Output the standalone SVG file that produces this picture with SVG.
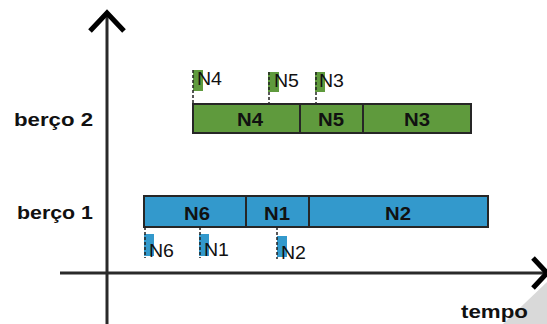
<svg xmlns="http://www.w3.org/2000/svg" width="547" height="324" viewBox="0 0 547 324">
<style>
.lbl{font-family:"Liberation Sans",Arial,sans-serif;font-weight:bold;font-size:19px;fill:#111}
.bt{font-family:"Liberation Sans",Arial,sans-serif;font-weight:bold;font-size:19px;fill:#111;text-anchor:middle}
.mt{font-family:"Liberation Sans",Arial,sans-serif;font-size:18px;fill:#111}
.g{fill:#5f9a3d}
.b{fill:#3399cc}
.bar{stroke:#262626;stroke-width:2}
.dash{stroke:#222;stroke-width:1.5;stroke-dasharray:3 2;fill:none}
.axis{stroke:#2a2a2a;stroke-width:3;fill:none}
.head{stroke:#000;stroke-width:5;fill:none}
</style>
<polygon points="503,324 547,282 547,324" fill="#d9d9d9"/>
<g id="axes">
<line class="axis" x1="107" y1="14" x2="107" y2="324"/>
<line class="axis" x1="60" y1="273" x2="544" y2="273"/>
<polyline class="head" points="90,31 107,13 124,31"/>
<polyline class="head" points="533,258 547,273 533,288"/>
</g>
<text class="lbl" x="14" y="126" textLength="79" lengthAdjust="spacingAndGlyphs">berço 2</text>
<text class="lbl" x="17" y="219" textLength="76" lengthAdjust="spacingAndGlyphs">berço 1</text>
<text class="lbl" x="461" y="318" textLength="67" lengthAdjust="spacingAndGlyphs">tempo</text>
<g id="N4bar"><rect class="g bar" x="193" y="104" width="107" height="29"/><text class="bt" x="250" y="126" textLength="26" lengthAdjust="spacingAndGlyphs">N4</text></g>
<g id="N5bar"><rect class="g bar" x="300" y="104" width="63" height="29"/><text class="bt" x="331" y="126" textLength="26" lengthAdjust="spacingAndGlyphs">N5</text></g>
<g id="N3bar"><rect class="g bar" x="363" y="104" width="108" height="29"/><text class="bt" x="417" y="126" textLength="26" lengthAdjust="spacingAndGlyphs">N3</text></g>
<g id="N6bar"><rect class="b bar" x="144" y="196" width="102" height="31"/><text class="bt" x="197" y="220" textLength="26" lengthAdjust="spacingAndGlyphs">N6</text></g>
<g id="N1bar"><rect class="b bar" x="246" y="196" width="63" height="31"/><text class="bt" x="277" y="220" textLength="26" lengthAdjust="spacingAndGlyphs">N1</text></g>
<g id="N2bar"><rect class="b bar" x="309" y="196" width="179" height="31"/><text class="bt" x="398" y="220" textLength="26" lengthAdjust="spacingAndGlyphs">N2</text></g>
<g id="N4m"><rect class="g" x="193" y="70" width="10" height="21"/><line class="dash" x1="193" y1="70" x2="193" y2="103"/><text class="mt" x="197" y="85" textLength="25" lengthAdjust="spacingAndGlyphs">N4</text></g>
<g id="N5m"><rect class="g" x="268" y="72" width="11" height="20"/><line class="dash" x1="269" y1="72" x2="269" y2="103"/><text class="mt" x="274" y="87" textLength="25" lengthAdjust="spacingAndGlyphs">N5</text></g>
<g id="N3m"><rect class="g" x="315" y="72" width="10" height="20"/><line class="dash" x1="316" y1="72" x2="316" y2="103"/><text class="mt" x="319" y="87" textLength="25" lengthAdjust="spacingAndGlyphs">N3</text></g>
<g id="N6m"><rect class="b" x="144" y="234" width="10" height="22"/><line class="dash" x1="145" y1="227" x2="145" y2="258"/><text class="mt" x="149" y="257" textLength="25" lengthAdjust="spacingAndGlyphs">N6</text></g>
<g id="N1m"><rect class="b" x="199" y="234" width="10" height="22"/><line class="dash" x1="200" y1="227" x2="200" y2="258"/><text class="mt" x="204" y="256" textLength="25" lengthAdjust="spacingAndGlyphs">N1</text></g>
<g id="N2m"><rect class="b" x="277" y="236" width="10" height="21"/><line class="dash" x1="277" y1="227" x2="277" y2="259"/><text class="mt" x="281" y="259" textLength="25" lengthAdjust="spacingAndGlyphs">N2</text></g>
</svg>
